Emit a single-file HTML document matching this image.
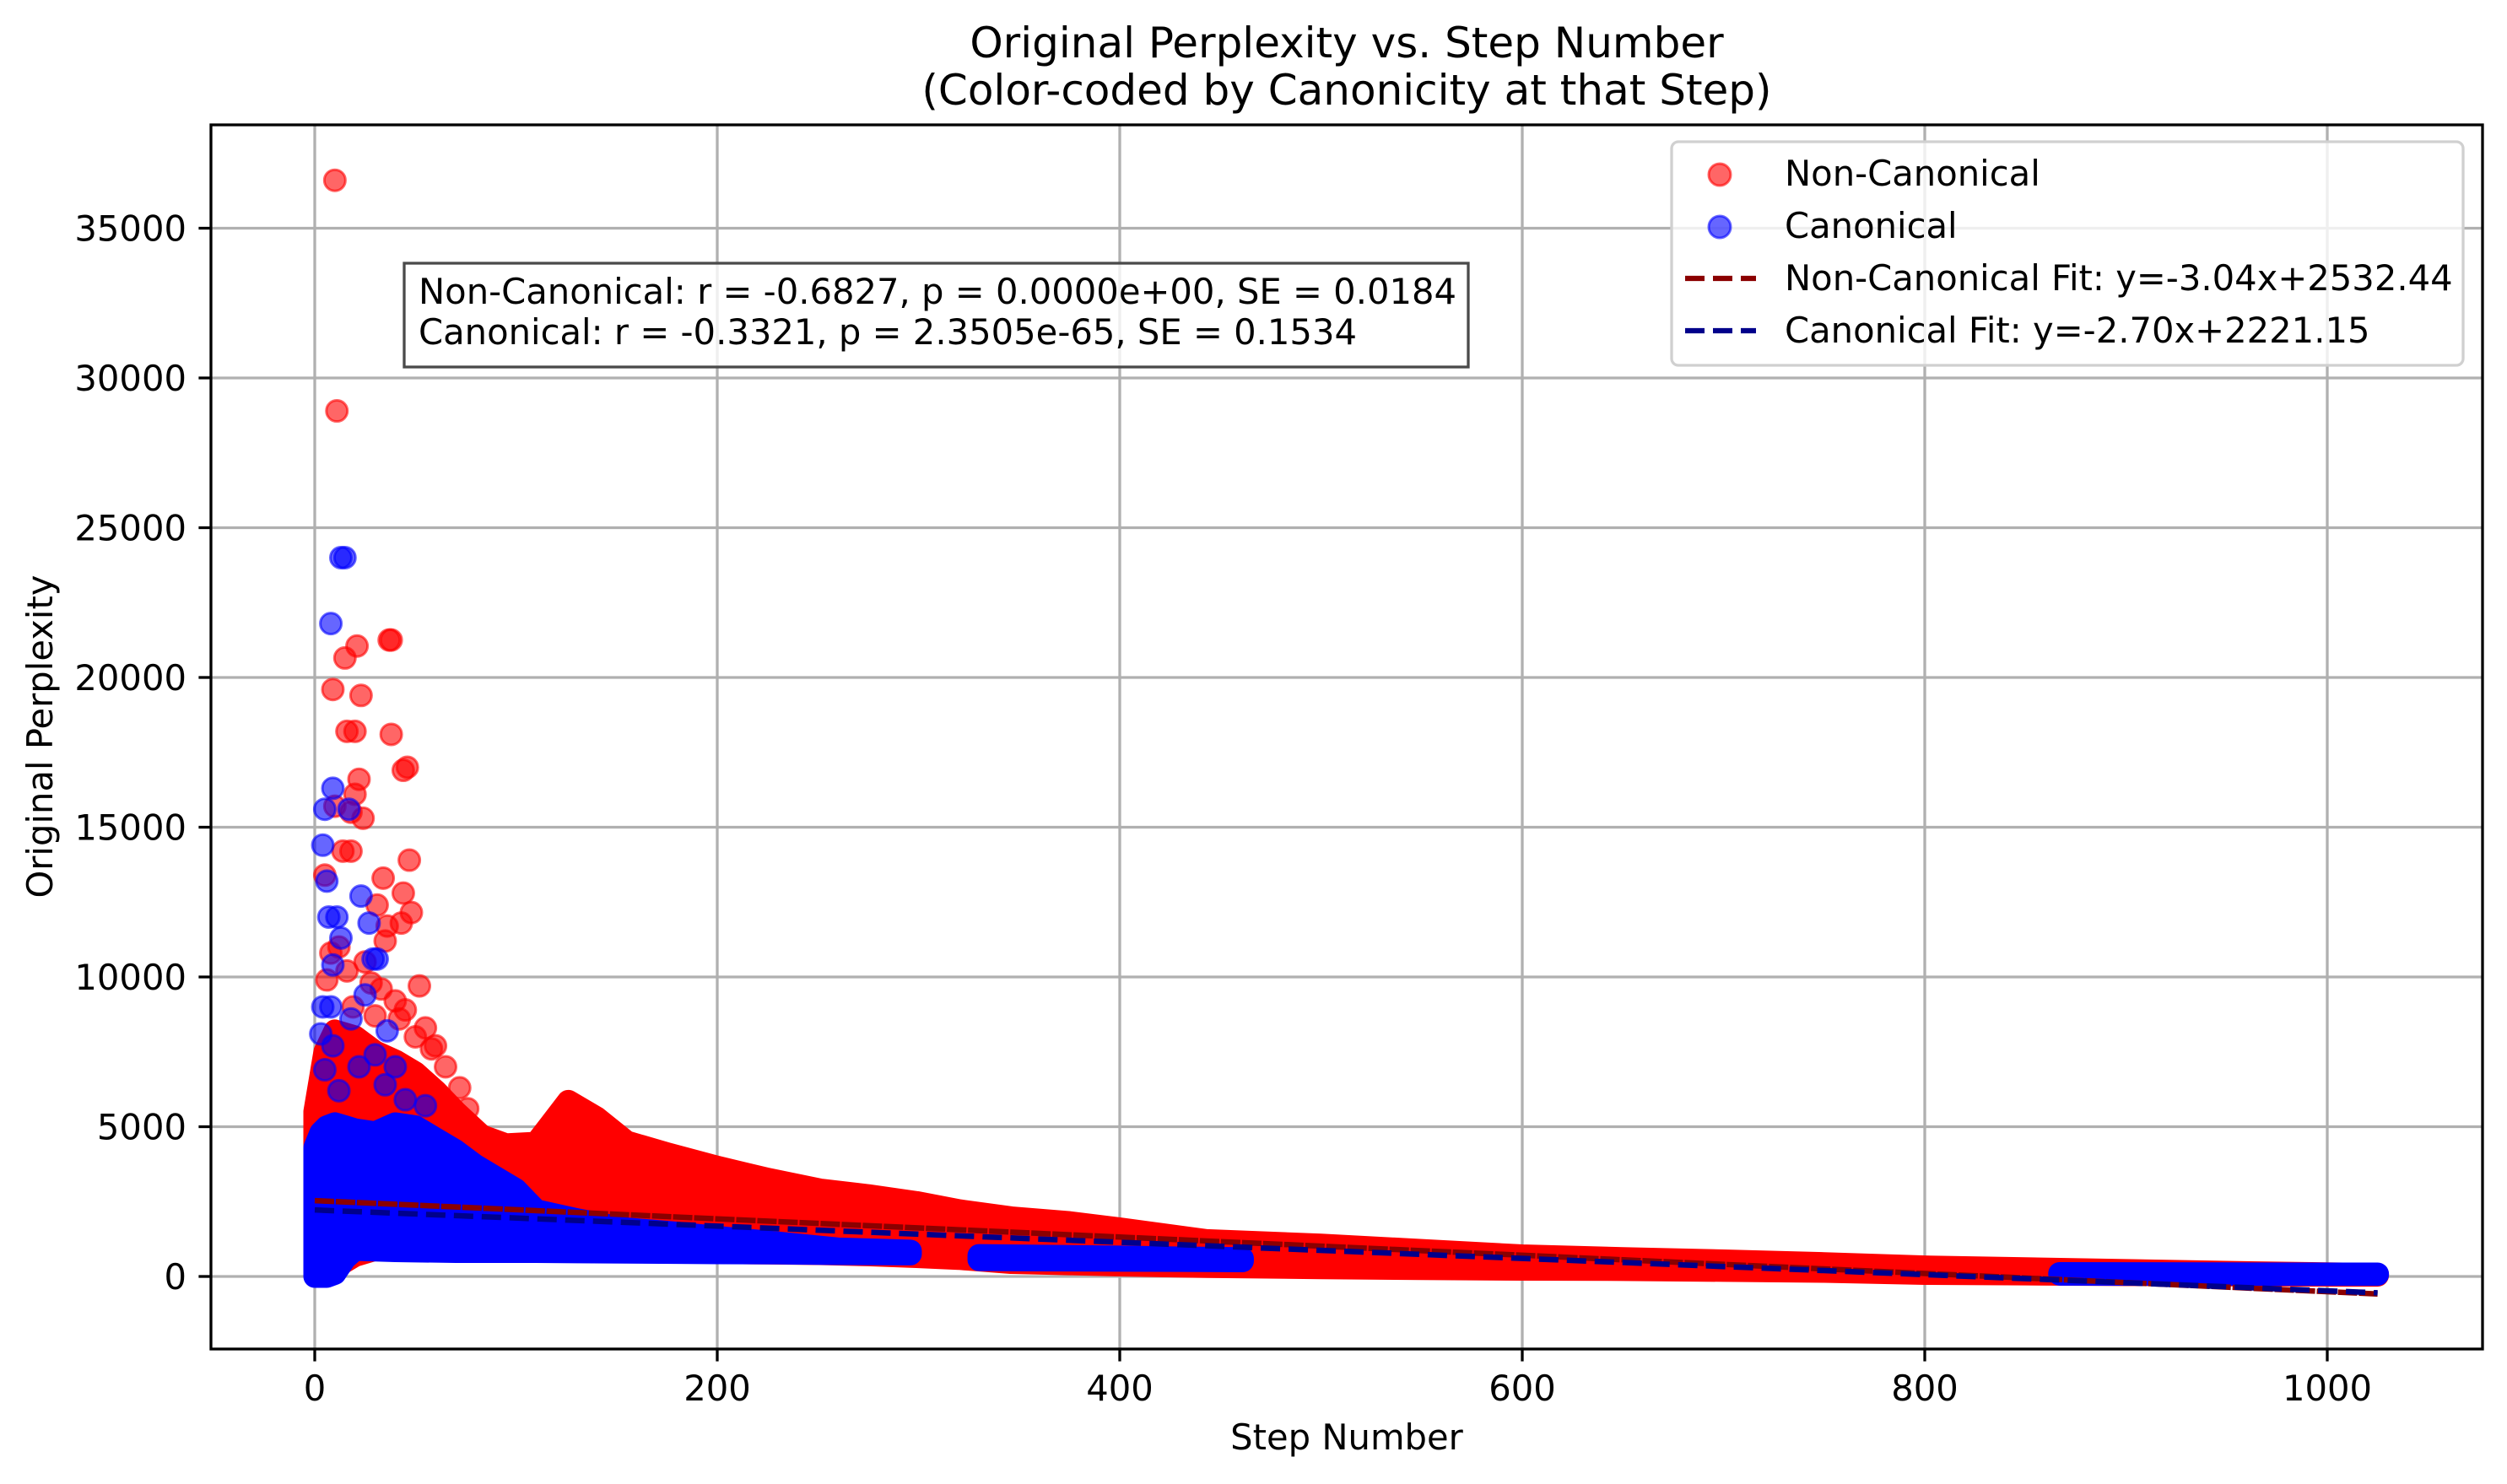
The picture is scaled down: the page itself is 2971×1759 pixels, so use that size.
<!DOCTYPE html>
<html><head><meta charset="utf-8"><style>
html,body{margin:0;padding:0;background:#fff;}
svg{display:block;font-family:"DejaVu Sans","Liberation Sans",sans-serif;}
</style></head><body>
<svg id="chart" width="2971" height="1759" viewBox="0 0 2971 1759" xmlns="http://www.w3.org/2000/svg">
<rect x="0" y="0" width="2971" height="1759" fill="#fff"/>
<g id="grid"></g>
<g id="marks"></g>
<g id="axes"></g>
<text x="1596" y="68" font-size="50" text-anchor="middle">Original Perplexity vs. Step Number</text>
<text x="1596" y="124" font-size="50" text-anchor="middle">(Color-coded by Canonicity at that Step)</text>
<text x="1596" y="1718" font-size="41.7" text-anchor="middle">Step Number</text>
<text x="0" y="0" font-size="41.7" text-anchor="middle" transform="translate(62,873) rotate(-90)">Original Perplexity</text>
<g>
<rect x="479" y="312" width="1261" height="123" fill="#fff" fill-opacity="0.8" stroke="#4a4a4a" stroke-width="3.3"/>
<text x="496" y="360" font-size="41.7">Non-Canonical: r = -0.6827, p = 0.0000e+00, SE = 0.0184</text>
<text x="496" y="408" font-size="41.7">Canonical: r = -0.3321, p = 2.3505e-65, SE = 0.1534</text>
</g>
<g>
<rect x="1981" y="168" width="938" height="265" rx="8" fill="#fff" fill-opacity="0.8" stroke="#d0d0d0" stroke-width="3.3"/>
<circle cx="2038" cy="207" r="13" fill="rgba(255,0,0,0.6)" stroke="rgba(255,0,0,0.6)" stroke-width="3"/>
<text x="2115" y="220" font-size="41.7">Non-Canonical</text>
<circle cx="2038" cy="269" r="13" fill="rgba(0,0,255,0.6)" stroke="rgba(0,0,255,0.6)" stroke-width="3"/>
<text x="2115" y="282" font-size="41.7">Canonical</text>
<line x1="1997" y1="330" x2="2081" y2="330" stroke="#8b0000" stroke-width="6.25" stroke-dasharray="23,10"/>
<text x="2115" y="344" font-size="41.7">Non-Canonical Fit: y=-3.04x+2532.44</text>
<line x1="1997" y1="392" x2="2081" y2="392" stroke="#00008b" stroke-width="6.25" stroke-dasharray="23,10"/>
<text x="2115" y="406" font-size="41.7">Canonical Fit: y=-2.70x+2221.15</text>
</g>
</svg>
<script>
const xTicks = [0, 200, 400, 600, 800, 1000];
const yTicks = [0, 5000, 10000, 15000, 20000, 25000, 30000, 35000];

const redSteps = [0,5,10,20,30,40,50,60,70,83,95,110,126,140,155,175,200,225,251,275,299,320,346,375,400,443,500,550,600,650,700,750,800,850,900,950,1000,1025];
const redUpper = [5500,7500,8200,8000,7500,7200,6800,6200,5500,4690,4400,4450,5850,5300,4490,4100,3650,3250,2890,2700,2470,2200,1960,1800,1590,1200,1050,870,690,600,520,430,320,260,200,140,90,70];
const redLower = [50,100,300,700,900,900,900,900,900,900,900,920,900,880,860,840,800,780,760,720,660,600,465,420,380,330,290,260,240,230,200,170,100,80,60,50,40,40];

const blueStepsA = [0,3,6,10,15,20,30,40,50,60,70,80,90,100,110,130,155,180,200,230,260,296];
const blueUpperA = [4300,4800,5000,5100,5000,4900,4800,5100,5000,4600,4200,3700,3300,2900,2200,1900,1590,1450,1310,1120,920,850];
const blueLowerA = [0,0,0,100,600,900,880,860,850,840,830,830,830,830,830,820,810,800,790,780,760,750];
const blueStepsB = [330,360,400,430,461];
const blueUpperB = [700,680,650,620,600];
const blueLowerB = [560,550,540,530,520];
const blueStepsC = [867,900,950,1000,1025];
const blueUpperC = [100,95,90,85,85];
const blueLowerC = [75,72,70,68,66];

const redOutX = [10,11,37,38,21,15,9,23,16,20,38,44,46,22,20,10,24,18,47,34,44,48,14,18,31,5,36,43,35,52,60,65,72,76,8,12,16,25,28,33,40,45,55,6,19,30,42,50,58];
const redOutY = [36600,28900,21250,21250,21050,20650,19600,19400,18200,18200,18100,16900,17000,16600,16100,15700,15300,15500,13900,13300,12800,12150,14200,14200,12400,13400,11700,11800,11200,9700,7700,7000,6300,5600,10800,11000,10200,10500,9800,9600,9200,8900,8300,9900,9000,8700,8600,8000,7600];
const blueOutX = [13,15,8,9,5,17,4,6,7,11,23,27,29,31,9,13,25,4,36,30,40,5,9,35,3,8,18,22,12,45,55];
const blueOutY = [24000,24000,21800,16300,15600,15600,14400,13200,12000,12000,12700,11800,10600,10600,10400,11300,9400,9000,8200,7400,7000,6900,7700,6400,8100,9000,8600,7000,6200,5900,5700];

const fitSlopes = [-3.04, -2.70];
const fitIntercepts = [2532.44, 2221.15];
const fitRange = [0, 1025];

const L = 250, R = 2942, T = 148, B = 1599;
function sx(v){ return 373 + v * 2.385; }
function sy(v){ return 1513 - v * 0.0355; }
const NS = 'http://www.w3.org/2000/svg';
function mk(tag, attrs, parent){
  const e = document.createElementNS(NS, tag);
  for (const k in attrs) e.setAttribute(k, attrs[k]);
  parent.appendChild(e);
  return e;
}
const grid = document.getElementById('grid');
const marks = document.getElementById('marks');
const axes = document.getElementById('axes');

xTicks.forEach(t => {
  const g = mk('line', {x1: sx(t), x2: sx(t), y1: T, y2: B, stroke: '#b0b0b0', 'stroke-width': 3.3}, grid);
  
  
  const tk = mk('line', {x1: sx(t), x2: sx(t), y1: B, y2: B + 14.6, stroke: '#000', 'stroke-width': 3.3}, axes);
  
  
  const lb = mk('text', {x: sx(t), y: 1660, 'font-size': 41.7, 'text-anchor': 'middle'}, axes);
  lb.textContent = String(t);
  
  
});
yTicks.forEach(t => {
  const g = mk('line', {x1: L, x2: R, y1: sy(t), y2: sy(t), stroke: '#b0b0b0', 'stroke-width': 3.3}, grid);
  
  
  const tk = mk('line', {x1: L - 14.6, x2: L, y1: sy(t), y2: sy(t), stroke: '#000', 'stroke-width': 3.3}, axes);
  
  
  const lb = mk('text', {x: 221, y: sy(t) + 15, 'font-size': 41.7, 'text-anchor': 'end'}, axes);
  lb.textContent = String(t);
  
  
});
const frame = mk('rect', {x: L, y: T, width: R - L, height: B - T, fill: 'none', stroke: '#000', 'stroke-width': 3.3}, axes);



function band(steps, up, lo, color, name){
  const pts = [];
  for (let i = 0; i < steps.length; i++) pts.push(sx(steps[i]) + ',' + sy(up[i]));
  for (let i = steps.length - 1; i >= 0; i--) pts.push(sx(steps[i]) + ',' + sy(lo[i]));
  const p = mk('polygon', {points: pts.join(' '), fill: color, stroke: color, 'stroke-width': 27, 'stroke-linejoin': 'round'}, marks);
  
  
}
function dots(xs, ys, color, name){
  for (let i = 0; i < xs.length; i++) {
    const c = mk('circle', {cx: sx(xs[i]), cy: sy(ys[i]), r: 12.5, fill: color, 'fill-opacity': 0.6, stroke: color, 'stroke-opacity': 0.6, 'stroke-width': 3}, marks);
    
    
  }
}
band(redSteps, redUpper, redLower, '#ff0000', 'non-canonical-point-cloud');
dots(redOutX, redOutY, '#ff0000', 'non-canonical-point');
band(blueStepsA, blueUpperA, blueLowerA, '#0000ff', 'canonical-point-cloud');
band(blueStepsB, blueUpperB, blueLowerB, '#0000ff', 'canonical-point-cloud');
band(blueStepsC, blueUpperC, blueLowerC, '#0000ff', 'canonical-point-cloud');
dots(blueOutX, blueOutY, '#0000ff', 'canonical-point');

const fitColors = ['#8b0000', '#00008b'];
const fitNames = ['non-canonical-fit-line', 'canonical-fit-line'];
for (let i = 0; i < fitSlopes.length; i++) {
  const x0 = fitRange[0], x1 = fitRange[1];
  const ln = mk('line', {x1: sx(x0), y1: sy(fitSlopes[i]*x0 + fitIntercepts[i]), x2: sx(x1), y2: sy(fitSlopes[i]*x1 + fitIntercepts[i]),
    stroke: fitColors[i], 'stroke-width': 6.5, 'stroke-dasharray': i === 0 ? '23,2' : '23,10'}, marks);
  
  
}
</script>
</body></html>
